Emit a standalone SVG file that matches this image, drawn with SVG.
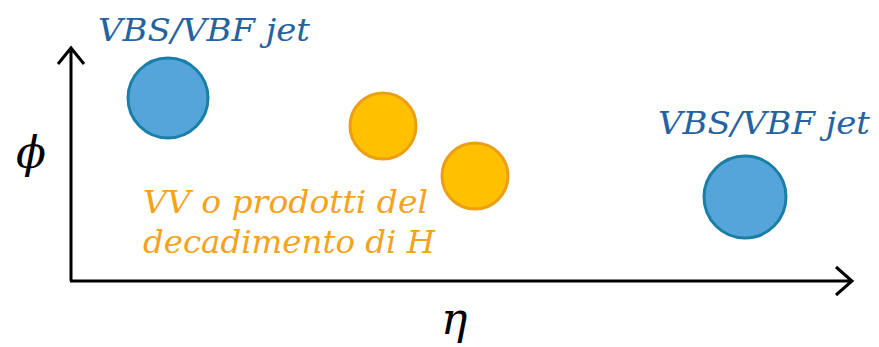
<svg xmlns="http://www.w3.org/2000/svg" width="879" height="347" viewBox="0 0 879 347">
<style>
.axis{stroke:#000;stroke-width:3;fill:none}
.jet{fill:#55a4da;stroke:#1a7fa6;stroke-width:3}
.vv{fill:#ffc000;stroke:#eb9f16;stroke-width:3}
.lbl{font-family:"DejaVu Serif","Liberation Serif",serif;font-style:italic;font-size:32px}
.blue{fill:#2563a0}
.orange{fill:#f5a31a}
.math{font-family:"DejaVu Serif","Liberation Serif",serif;font-style:italic;font-size:44px;fill:#000}
</style>
<g id="connectors">
<path class="axis" d="M71,281 V50 M58,64 L71,48 L84,64"/>
<path class="axis" d="M70,281 H851 M836,267 L852,281 L836,295"/>
</g>
<g id="jet1"><circle class="jet" cx="168" cy="98" r="40"/></g>
<g id="jet2"><circle class="jet" cx="745" cy="197" r="41"/></g>
<g id="vv1"><circle class="vv" cx="383" cy="126" r="33"/></g>
<g id="vv2"><circle class="vv" cx="475" cy="176" r="33"/></g>
<g id="labels">
<text class="lbl blue" x="98" y="41" textLength="212" lengthAdjust="spacingAndGlyphs">VBS/VBF jet</text>
<text class="lbl blue" x="658" y="134" textLength="212" lengthAdjust="spacingAndGlyphs">VBS/VBF jet</text>
<text class="lbl orange" x="143" y="213" textLength="285" lengthAdjust="spacingAndGlyphs">VV o prodotti del</text>
<text class="lbl orange" x="143" y="253" textLength="292" lengthAdjust="spacingAndGlyphs">decadimento di H</text>
<text class="math" x="16" y="168">ϕ</text>
<text class="math" x="441" y="334">η</text>
</g>
</svg>
